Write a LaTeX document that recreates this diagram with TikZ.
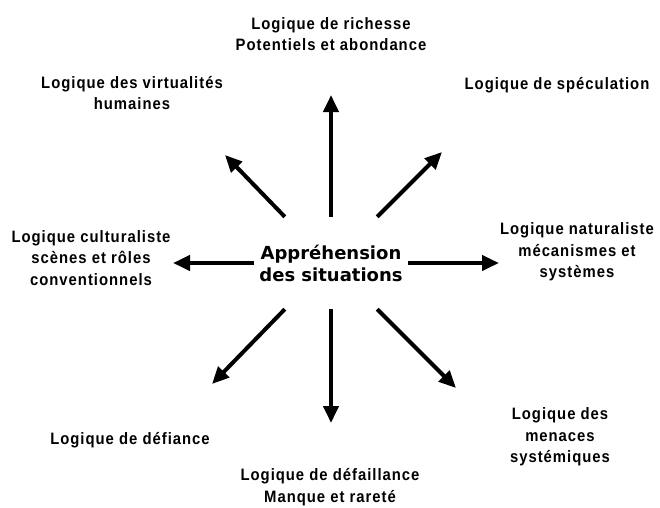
\documentclass[tikz,border=0pt]{standalone}
\usepackage{fontspec}
\newfontfamily\labelfont{Liberation Sans}[LetterSpace=6, FakeStretch=0.9]
\newfontfamily\centrefont{DejaVu Sans}
\usetikzlibrary{arrows.meta}

\begin{document}
\begin{tikzpicture}[
        x=1pt, y=-1pt,
        logic/.style={align=center, inner sep=0pt,
          font=\labelfont\bfseries\fontsize{16.5}{21.5}\selectfont},
        ray/.style={line width=4pt, -{Triangle[length=17pt,width=15pt]}},
      ]
      \useasboundingbox (0,0) rectangle (660,507);

      % centre and the tips of the rays
      \node[align=center, inner sep=0pt, minimum width=153pt, minimum height=92pt,
        font=\centrefont\bfseries\fontsize{18}{22}\selectfont] (centre) at (331,263)
        {Appréhension\\des situations};
      \coordinate (tipN) at (331,95);
      \coordinate (tipS) at (331,423);
      \coordinate (tipW) at (173,263);
      \coordinate (tipE) at (499,263);
      \coordinate (tipNW) at (225,155);
      \coordinate (tipNE) at (442,152);
      \coordinate (tipSW) at (212,384);
      \coordinate (tipSE) at (456,388);

      \draw[ray] (centre.north) -- (tipN);
      \draw[ray] (centre.south) -- (tipS);
      \draw[ray] (centre.west) -- (tipW);
      \draw[ray] (centre.east) -- (tipE);
      \draw[ray] (centre.135) -- (tipNW);
      \draw[ray] (centre.45) -- (tipNE);
      \draw[ray] (centre.225) -- (tipSW);
      \draw[ray] (centre.315) -- (tipSE);

      % the eight logics
      \node[logic] (richesse) at (331,34) {Logique de richesse\\Potentiels et abondance};
      \node[logic] (virtualites) at (132,93) {Logique des virtualités\\humaines};
      \node[logic] (speculation) at (557,85) {Logique de spéculation};
      \node[logic] (culturaliste) at (91,258) {Logique culturaliste\\scènes et rôles\\conventionnels};
      \node[logic] (naturaliste) at (577,252) {Logique naturaliste\\mécanismes et\\systèmes};
      \node[logic] (defiance) at (130,440) {Logique de défiance};
      \node[logic] (menaces) at (560,437) {Logique des\\menaces\\systémiques};
      \node[logic] (defaillance) at (330,487) {Logique de défaillance\\Manque et rareté};

    \end{tikzpicture}
\end{document}
